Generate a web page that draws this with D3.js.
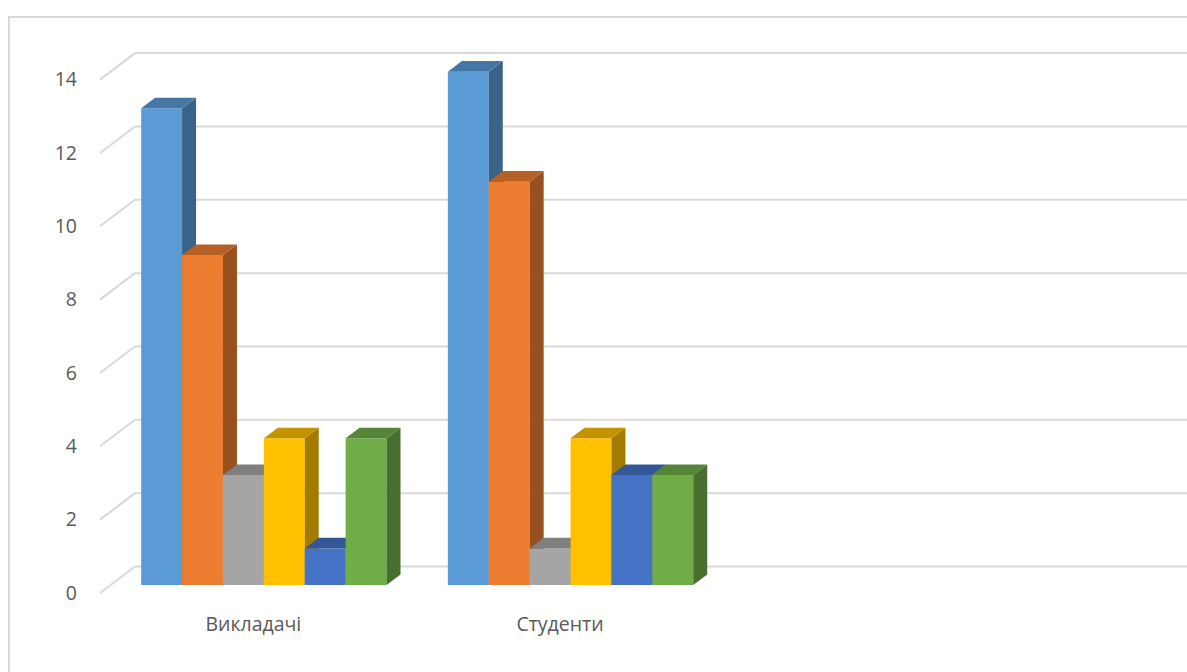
<!DOCTYPE html>
<html><head><meta charset="utf-8">
<script src="https://cdn.jsdelivr.net/npm/d3@7"></script>
<style>
html,body{margin:0;padding:0;background:#fff;}
svg{display:block;}
</style></head>
<body>
<svg id="chart" width="1187" height="672"></svg>
<script>
const categories = ["Викладачі", "Студенти", "", ""];
const seriesA = [13, 14, null, null];
const seriesB = [9, 11, null, null];
const seriesC = [3, 1, null, null];
const seriesD = [4, 4, null, null];
const seriesE = [1, 3, null, null];
const seriesF = [4, 3, null, null];
const seriesColors = ["#5B9BD5", "#ED7D31", "#A5A5A5", "#FFC000", "#4472C4", "#70AD47"];
const yTickValues = [0, 2, 4, 6, 8, 10, 12, 14];

const allSeries = [seriesA, seriesB, seriesC, seriesD, seriesE, seriesF];

const svg = d3.select("#chart");
const W = 1187, H = 672;

// chart frame
svg.append("rect").attr("x", 9).attr("y", 17).attr("width", W + 20).attr("height", H + 20)
  .attr("fill", "#fff").attr("stroke", "#d9d9d9").attr("stroke-width", 2);

// 3D geometry
const depthDX = 35, depthDY = -26.5;
const x = d3.scaleBand().domain(d3.range(categories.length)).range([100, 100 + categories.length * 306.7]).paddingInner(0).paddingOuter(0);
const xs = d3.scaleBand().domain(d3.range(allSeries.length)).range([0, x.bandwidth()]).paddingInner(0).paddingOuter(0.75);
const y = d3.scaleLinear().domain([0, 14]).range([593, 593 - 14 * 36.67]);
const P = (px, v, d) => [px + d * depthDX, y(v) + d * depthDY];

// gridlines: back wall + left wall diagonals
const grid = svg.append("g");
yTickValues.forEach(v => {
  const f = P(100, v, 0), b = P(100, v, 1);
  grid.append("line").attr("x1", f[0]).attr("y1", f[1]).attr("x2", b[0]).attr("y2", b[1])
    .attr("stroke", "#d9d9d9").attr("stroke-width", 2);
  grid.append("line").attr("x1", b[0]).attr("y1", b[1]).attr("x2", W + 10).attr("y2", b[1])
    .attr("stroke", "#d9d9d9").attr("stroke-width", 2);
});

const FONT = "'Open Sans', sans-serif";

// y axis labels
const yAxis = d3.axisLeft(y).tickValues(yTickValues).tickSize(0).tickPadding(23).tickFormat(d3.format("d"));
const ax = svg.append("g").attr("transform", "translate(100,0)").call(yAxis);
ax.select(".domain").remove();
ax.selectAll("text").attr("font-family", FONT).attr("font-size", 19.5).attr("fill", "#595959");

// x axis labels
const xAxis = d3.axisBottom(x).tickSize(0).tickPadding(22).tickFormat(i => categories[i]);
const xa = svg.append("g").attr("transform", `translate(0,${y(0) + 2})`).call(xAxis);
xa.select(".domain").remove();
xa.selectAll("text").attr("font-family", FONT).attr("font-size", 19.5).attr("fill", "#595959");

// bars
const d0 = 0.3, d1 = 0.7;
const shade = (c, k) => d3.rgb(c.r * k, c.g * k, c.b * k).formatHex();
const bars = svg.append("g");
categories.forEach((cat, ci) => {
  allSeries.forEach((vals, si) => {
    const v = vals[ci];
    if (v == null) return;
    const xl = x(ci) + xs(si), xr = xl + xs.bandwidth();
    const c = d3.rgb(seriesColors[si]);
    const top = shade(c, 0.77), side = shade(c, 0.64);
    const pts = a => a.map(p => p.join(",")).join(" ");
    // front
    bars.append("polygon").attr("points", pts([P(xl, 0, d0), P(xr, 0, d0), P(xr, v, d0), P(xl, v, d0)]))
      .attr("fill", c.formatHex());
    // side
    bars.append("polygon").attr("points", pts([P(xr, 0, d0), P(xr, 0, d1), P(xr, v, d1), P(xr, v, d0)]))
      .attr("fill", side);
    // top
    bars.append("polygon").attr("points", pts([P(xl, v, d0), P(xr, v, d0), P(xr, v, d1), P(xl, v, d1)]))
      .attr("fill", top);
  });
});
</script>
</body></html>
